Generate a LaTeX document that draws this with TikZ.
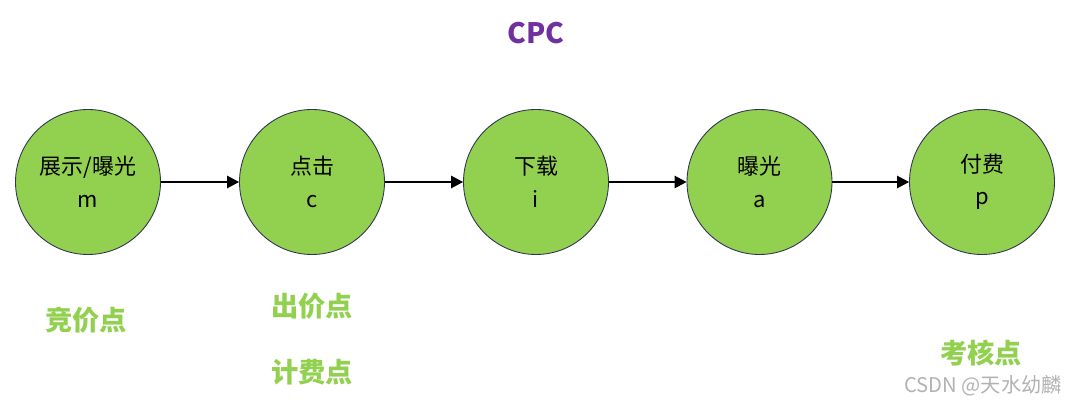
\documentclass[tikz,border=0pt]{standalone}
\usepackage{fontspec}
\setmainfont{Noto Sans CJK SC}
\usetikzlibrary{arrows.meta}
\definecolor{stagegreen}{HTML}{92D050}
\definecolor{titlepurple}{HTML}{7030A0}
\definecolor{rimblue}{HTML}{2F3550}
\tikzset{
  stage/.style={circle, draw=rimblue, line width=0.5pt, fill=stagegreen, minimum size=2.9cm, inner sep=0pt,
    align=center, font=\fontsize{12.5}{18.5}\selectfont},
  mark label/.style={text=stagegreen, font=\fontsize{15.5}{18}\selectfont\bfseries},
  flow/.style={-{Triangle[length=2.4mm, width=2.5mm]}, line width=0.6pt}
}
\begin{document}
\begin{tikzpicture}
  \useasboundingbox (0,0) rectangle (21.36,8.08);
  \node[text=titlepurple, font=\fontsize{16}{19}\selectfont\bfseries] (title) at (10.72,7.42) {CPC};
  \node[stage] (show)  at (1.76,4.44)  {展示/曝光\\m};
  \node[stage] (click) at (6.24,4.44)  {点击\\c};
  \node[stage] (down)  at (10.72,4.44) {下载\\i};
  \node[stage] (expo)  at (15.19,4.44) {曝光\\a};
  \node[stage] (pay)   at (19.64,4.44) {付费\\p};
  \draw[flow] (show) -- (click); \draw[flow] (click) -- (down);
  \draw[flow] (down) -- (expo);  \draw[flow] (expo) -- (pay);
  \node[mark label] (bid)    at (1.72,1.68)  {竞价点};
  \node[mark label] (offer)  at (6.24,1.96)  {出价点};
  \node[mark label] (charge) at (6.24,0.64)  {计费点};
  \node[mark label] (check)  at (19.62,1.02) {考核点};
  \node[text=black!30, font=\fontsize{11.5}{13}\selectfont] (mark) at (19.66,0.36) {CSDN @天水幼麟};
\end{tikzpicture}
\end{document}
